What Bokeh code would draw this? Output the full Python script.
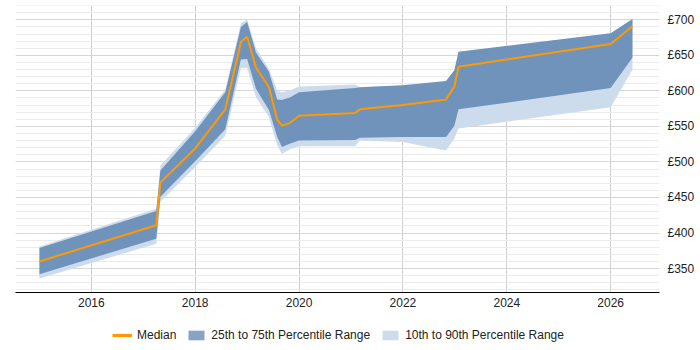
from bokeh.plotting import figure
from bokeh.layouts import column
from bokeh.models import (Range1d, SingleIntervalTicker, PrintfTickFormatter,
                          Legend, LegendItem, ColumnDataSource)
from bokeh.embed import file_html
from bokeh.resources import INLINE

# Daily rate percentiles over time (decimal years)
years = [2015.00, 2017.25, 2017.33, 2018.00, 2018.58, 2018.88, 2019.00, 2019.17,
         2019.42, 2019.58, 2019.67, 2019.83, 2020.00, 2021.08, 2021.17, 2022.00,
         2022.83, 2022.99, 2023.07, 2026.00, 2026.42]
median = [360, 411, 471, 519, 574, 669, 676, 633,
          605, 559, 551, 555, 565, 569, 574, 580,
          588, 606, 634, 666, 691]
p25 = [342, 392, 451, 501, 546, 644, 645, 603,
       573, 535, 521, 526, 530, 531, 534, 535,
       535, 551, 574, 604, 647]
p75 = [379, 431, 488, 543, 598, 690, 697, 654,
       627, 588, 587, 591, 598, 604, 605, 608,
       614, 629, 655, 681, 701]
p10 = [336, 385, 444, 493, 537, 632, 632, 591,
       563, 523, 511, 518, 522, 522, 530, 528,
       516, 533, 547, 577, 630]
p90 = [381, 434, 495, 548, 602, 695, 700, 660,
       631, 600, 598, 601, 606, 609, 605, 608,
       614, 629, 655, 681, 701]

labels = ["Median", "25th to 75th Percentile Range", "10th to 90th Percentile Range"]
y_ticks_step = 50

MEDIAN_COLOR = "#ff9900"
IQR_COLOR, IQR_ALPHA = "#18508e", 0.52
DECILE_COLOR = "#cddcec"
FONT = "Liberation Sans"
TEXT_COLOR = "#222222"

src = ColumnDataSource(dict(x=years, median=median, p10=p10, p25=p25, p75=p75, p90=p90))

p = figure(width=700, height=315, output_backend="svg", toolbar_location=None,
           x_range=Range1d(2014.54, 2026.94), y_range=Range1d(316.3, 720.1),
           y_axis_location="right",
           min_border_left=15, min_border_right=41, min_border_top=5, min_border_bottom=23)
p.outline_line_color = None
p.background_fill_color = "white"
p.border_fill_color = "white"

p.varea(x="x", y1="p10", y2="p90", source=src, fill_color=DECILE_COLOR, fill_alpha=1.0)
p.varea(x="x", y1="p25", y2="p75", source=src, fill_color=IQR_COLOR, fill_alpha=IQR_ALPHA)
p.line(x="x", y="median", source=src, line_color=MEDIAN_COLOR, line_width=2)

# x axis
xa = p.xaxis[0]
xa.ticker = SingleIntervalTicker(interval=2, num_minor_ticks=0)
xa.axis_line_color = "black"
xa.axis_line_width = 1
xa.major_tick_line_color = None
xa.minor_tick_line_color = None
xa.major_tick_out = 0
xa.minor_tick_out = 0
xa.major_label_standoff = 5
xa.major_label_text_font = FONT
xa.major_label_text_font_size = "12px"
xa.major_label_text_color = TEXT_COLOR

# y axis on the right
ya = p.yaxis[0]
ya.ticker = SingleIntervalTicker(interval=y_ticks_step, num_minor_ticks=5)
ya.formatter = PrintfTickFormatter(format="£%d")
ya.axis_line_color = None
ya.major_tick_line_color = None
ya.minor_tick_line_color = None
ya.major_tick_out = 0
ya.minor_tick_out = 0
ya.major_label_standoff = 8
ya.major_label_text_font = FONT
ya.major_label_text_font_size = "12px"
ya.major_label_text_color = TEXT_COLOR

p.xgrid.grid_line_color = "#cfcfcf"
p.ygrid.grid_line_color = "#d6d6d6"
p.ygrid.minor_grid_line_color = "#ebebeb"

# legend strip under the chart; its key glyphs sit outside the visible range
leg = figure(width=700, height=35, output_backend="svg", toolbar_location=None,
             x_axis_location=None, y_axis_location=None,
             x_range=Range1d(0, 1), y_range=Range1d(0, 1), min_border=0)
leg.outline_line_color = None
leg.xgrid.visible = False
leg.ygrid.visible = False
k_med = leg.line(x=[-5, -4], y=[-5, -5], line_color=MEDIAN_COLOR, line_width=3)
k_iqr = leg.varea(x=[-5, -4], y1=[-5, -5], y2=[-4, -4], fill_color=IQR_COLOR, fill_alpha=IQR_ALPHA)
k_dec = leg.varea(x=[-5, -4], y1=[-5, -5], y2=[-4, -4], fill_color=DECILE_COLOR, fill_alpha=1.0)

legend = Legend(items=[LegendItem(label=labels[0], renderers=[k_med]),
                       LegendItem(label=labels[1], renderers=[k_iqr]),
                       LegendItem(label=labels[2], renderers=[k_dec])],
                orientation="horizontal", location=(97, 8),
                border_line_color=None, background_fill_alpha=0,
                label_text_font=FONT, label_text_font_size="12px",
                label_text_color=TEXT_COLOR,
                glyph_width=20, glyph_height=12, label_standoff=5, spacing=10,
                padding=0, margin=0)
leg.add_layout(legend)

open("out.html", "w").write(file_html(column(p, leg, spacing=0), INLINE))
